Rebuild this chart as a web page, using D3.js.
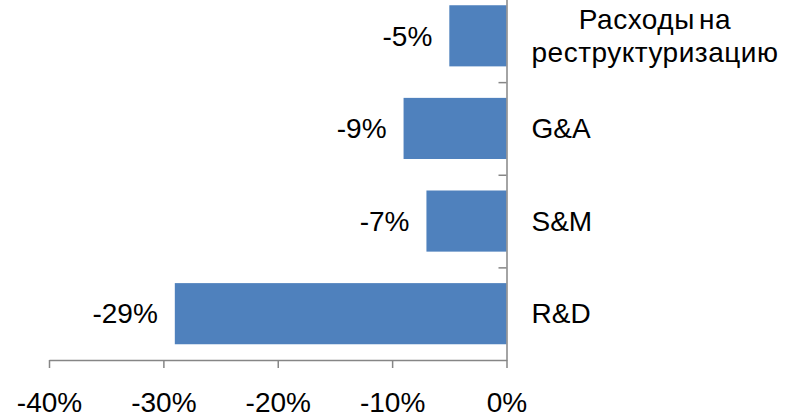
<!DOCTYPE html>
<html>
<head>
<meta charset="utf-8">
<script src="https://cdn.jsdelivr.net/npm/d3@7"></script>
<style>
  html, body { margin: 0; padding: 0; background: #fff; }
  svg { display: block; }
  text { font-family: "Liberation Sans", Arial, sans-serif; fill: #000; }
</style>
</head>
<body>
<svg id="chart" width="795" height="419"></svg>
<script>
// Expense categories, top to bottom, and their year-over-year change
const categories = ["Расходы на\nреструктуризацию", "G&A", "S&M", "R&D"];
const changes = [-0.05, -0.09, -0.07, -0.29];
const xTicks = [-0.4, -0.3, -0.2, -0.1, 0];

const plot = { left: 49, right: 506.5, top: -10.5, bottom: 360 };
const fontSize = 28;
const barColor = "#4F81BD";
const axisColor = "#868686";

const svg = d3.select("#chart");

const x = d3.scaleLinear().domain([-0.4, 0]).range([plot.left, plot.right]);
const y = d3.scaleBand().domain(categories)
  .range([plot.top, plot.bottom])
  .paddingInner(0.34).paddingOuter(0.17);
// category boundaries, for the tick marks between bars
const yEdge = d3.scaleLinear().domain([0, categories.length]).range([plot.top, plot.bottom]);

// percent with a plain hyphen for negatives
const pct = d3.format(".0%");
const fmt = v => pct(v).replace("\u2212", "-");

const rows = categories.map((c, i) => ({ c, v: changes[i] }));

// bars
svg.append("g").selectAll("rect")
  .data(rows)
  .join("rect")
  .attr("x", d => x(d.v))
  .attr("width", d => x(0) - x(d.v))
  .attr("y", d => y(d.c))
  .attr("height", y.bandwidth())
  .attr("fill", barColor);

// value labels left of each bar
svg.append("g").selectAll("text")
  .data(rows)
  .join("text")
  .attr("x", d => x(d.v) - 17)
  .attr("y", d => y(d.c) + y.bandwidth() / 2)
  .attr("dy", "0.35em")
  .attr("text-anchor", "end")
  .attr("font-size", fontSize)
  .text(d => fmt(d.v));

// bottom axis
const xAxis = svg.append("g")
  .attr("transform", `translate(0,${plot.bottom})`)
  .call(d3.axisBottom(x).tickValues(xTicks).tickFormat(fmt).tickSize(8).tickSizeOuter(0).tickPadding(24));
xAxis.select(".domain").attr("stroke", axisColor).attr("stroke-width", 1.5);
xAxis.selectAll(".tick line").attr("stroke", axisColor).attr("stroke-width", 1.5);
xAxis.selectAll(".tick text").attr("font-size", fontSize).attr("font-family", null).attr("fill", "#000").attr("dy", "0.71em");

// vertical category axis at zero
const yAxis = svg.append("g")
  .attr("transform", `translate(${x(0)},0)`)
  .call(d3.axisLeft(yEdge).tickValues([1, 2, 3]).tickFormat("").tickSize(8).tickSizeOuter(0));
yAxis.select(".domain").attr("stroke", axisColor).attr("stroke-width", 1.5);
yAxis.selectAll(".tick line").attr("stroke", axisColor).attr("stroke-width", 1.5);

// category labels right of the axis; wrapped labels are centred line by line
const labelX = x(0) + 25;
const lineHeight = 33;
categories.forEach(c => {
  const lines = c.split("\n");
  const g = svg.append("g");
  const cy = y(c) + y.bandwidth() / 2;
  const texts = lines.map((ln, i) => g.append("text")
    .attr("y", cy + (i - (lines.length - 1) / 2) * lineHeight)
    .attr("dy", "0.35em")
    .attr("font-size", fontSize)
    .attr("letter-spacing", lines.length > 1 ? 0.5 : 0)
    .attr("word-spacing", lines.length > 1 ? -4 : 0)
    .text(ln));
  const maxW = d3.max(texts, t => t.node().getComputedTextLength());
  texts.forEach(t => t.attr("x", labelX + maxW / 2).attr("text-anchor", "middle"));
});
</script>
</body>
</html>
